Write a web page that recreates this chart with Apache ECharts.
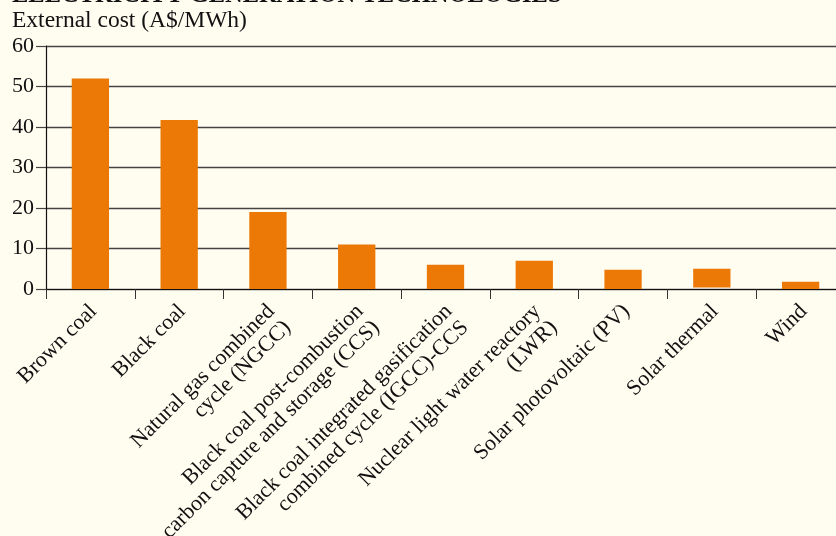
<!DOCTYPE html>
<html>
<head>
<meta charset="utf-8">
<script src="https://cdn.jsdelivr.net/npm/echarts@6/dist/echarts.min.js"></script>
<style>
html,body{margin:0;padding:0;background:#fffcf0;}
#c{width:836px;height:536px;}
</style>
</head>
<body>
<div id="c"></div>
<script>
const title = 'ELECTRICITY GENERATION TECHNOLOGIES';
const yAxisTitle = 'External cost (A$/MWh)';
const categories = [
  'Brown coal',
  'Black coal',
  'Natural gas combined\ncycle (NGCC)',
  'Black coal post-combustion\ncarbon capture and storage (CCS)',
  'Black coal integrated gasification\ncombined cycle (IGCC)-CCS',
  'Nuclear light water reactory\n(LWR)',
  'Solar photovoltaic (PV)',
  'Solar thermal',
  'Wind'
];
const baseValues = [0, 0, 0, 0, 0, 0, 0, 0.4, 0];
const costValues = [52.0, 41.7, 19.0, 11.0, 6.0, 7.0, 4.75, 4.6, 1.8];
const yMin = 0, yMax = 60, yInterval = 10;

const FONT = '"Liberation Serif", "DejaVu Serif", serif';
const chart = echarts.init(document.getElementById('c'), null, {renderer: 'canvas'});
chart.setOption({
  backgroundColor: '#fffcf0',
  animation: false,
  graphic: [
    {type: 'text', left: 12, top: -17, style: {text: title, font: 'bold 24.5px ' + FONT, fill: '#111'}},
    {type: 'text', left: 12, top: 9, style: {text: yAxisTitle, font: '23.5px ' + FONT, fill: '#111'}}
  ],
  grid: {left: 46, width: 799, top: 46, bottom: 247, containLabel: false, outerBoundsMode: 'none'},
  xAxis: {
    type: 'category',
    data: categories,
    axisLine: {lineStyle: {color: '#111', width: 1.2}},
    axisTick: {show: true, length: 10, alignWithLabel: false, lineStyle: {color: '#333', width: 1}},
    axisLabel: {
      interval: 0, rotate: 45, margin: 6, color: '#111',
      fontFamily: FONT, fontSize: 22, lineHeight: 23, verticalAlign: 'top',
      padding: [0, 7, 0, 0]
    }
  },
  yAxis: {
    type: 'value', min: yMin, max: yMax, interval: yInterval,
    axisLine: {show: true, lineStyle: {color: '#111', width: 1.2}},
    axisTick: {show: true, length: 10, inside: false, lineStyle: {color: '#444', width: 1.2}},
    axisLabel: {margin: 12, color: '#111', fontFamily: FONT, fontSize: 22},
    splitLine: {show: true, lineStyle: {color: '#444', width: 1.3}}
  },
  series: [
    {type: 'bar', stack: 's', data: baseValues, barWidth: '42%',
     itemStyle: {color: 'rgba(0,0,0,0)'}, silent: true},
    {type: 'bar', stack: 's', data: costValues, barWidth: '42%',
     itemStyle: {color: '#ec7805'}}
  ]
});
</script>
</body>
</html>
